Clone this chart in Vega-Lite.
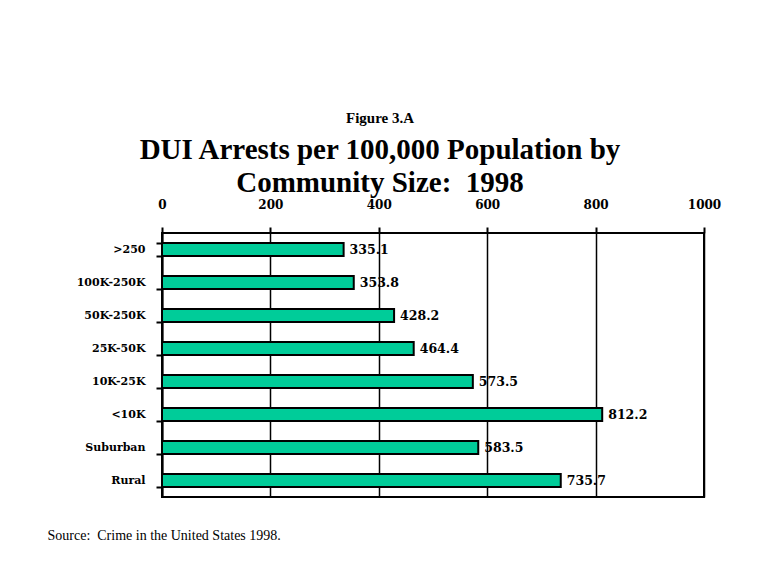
{
  "$schema": "https://vega.github.io/schema/vega-lite/v6.json",
  "width": 542,
  "height": 264,
  "autosize": {"type": "none"},
  "padding": {"left": 162, "top": 233, "right": 56, "bottom": 76},
  "background": "white",
  "title": {
    "text": "Figure 3.A",
    "subtitle": ["DUI Arrests per 100,000 Population by", "Community Size:\u00a0 1998"],
    "anchor": "middle",
    "frame": "group",
    "dx": -53,
    "offset": 0,
    "font": "Liberation Serif",
    "fontSize": 15,
    "fontWeight": "bold",
    "color": "black",
    "subtitleFont": "Liberation Serif",
    "subtitleFontSize": 29,
    "subtitleFontWeight": "bold",
    "subtitleColor": "black",
    "subtitleLineHeight": 33,
    "subtitlePadding": 10
  },
  "data": {
    "values": [
      {"size": ">250", "rate": 335.1, "label": "335.1"},
      {"size": "100K-250K", "rate": 353.8, "label": "353.8"},
      {"size": "50K-250K", "rate": 428.2, "label": "428.2"},
      {"size": "25K-50K", "rate": 464.4, "label": "464.4"},
      {"size": "10K-25K", "rate": 573.5, "label": "573.5"},
      {"size": "<10K", "rate": 812.2, "label": "812.2"},
      {"size": "Suburban", "rate": 583.5, "label": "583.5"},
      {"size": "Rural", "rate": 735.7, "label": "735.7"}
    ]
  },
  "encoding": {
    "y": {
      "field": "size",
      "type": "nominal",
      "sort": null,
      "scale": {"paddingInner": 0.6, "paddingOuter": 0.3},
      "axis": {
        "title": "Source:\u00a0 Crime in the United States 1998.",
        "titleFont": "Liberation Serif",
        "titleFontWeight": "normal",
        "titleFontSize": 14,
        "titleColor": "black",
        "titleAngle": 0,
        "titleAlign": "left",
        "titleBaseline": "top",
        "titleX": -115,
        "titleY": 295,
        "domain": true,
        "domainColor": "black",
        "domainWidth": 2,
        "ticks": true,
        "tickBand": "extent",
        "tickSize": 6,
        "tickWidth": 2,
        "tickColor": "black",
        "labelPadding": 11,
        "labelFont": "DejaVu Serif",
        "labelFontWeight": "bold",
        "labelFontSize": 11,
        "labelColor": "black"
      }
    },
    "x": {
      "field": "rate",
      "type": "quantitative",
      "scale": {"domain": [0, 1000], "nice": false},
      "axis": {
        "orient": "top",
        "title": null,
        "values": [0, 200, 400, 600, 800, 1000],
        "format": "d",
        "ticks": true,
        "tickSize": 6,
        "tickWidth": 2,
        "tickColor": "black",
        "domain": false,
        "grid": true,
        "gridColor": "#000000",
        "gridWidth": 1.5,
        "gridOpacity": 1,
        "labelPadding": 16,
        "labelFlush": false,
        "labelFont": "DejaVu Serif",
        "labelFontWeight": "bold",
        "labelFontSize": 12,
        "labelColor": "black"
      }
    }
  },
  "layer": [
    {
      "mark": {"type": "bar", "fill": "#00CC99", "stroke": "black", "strokeWidth": 2, "opacity": 1, "fillOpacity": 1}
    },
    {
      "mark": {
        "type": "text",
        "align": "left",
        "baseline": "middle",
        "dx": 6,
        "font": "DejaVu Serif",
        "fontWeight": "bold",
        "fontSize": 12.5,
        "color": "black"
      },
      "encoding": {
        "text": {"field": "label"}
      }
    }
  ],
  "config": {"view": {"stroke": "black", "strokeWidth": 2}}
}
